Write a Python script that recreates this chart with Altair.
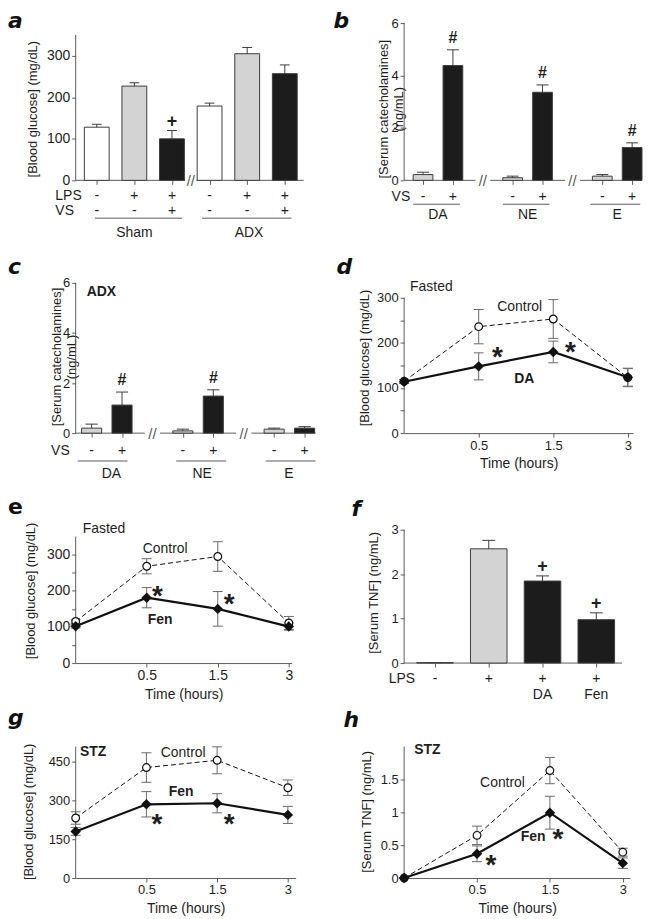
import json
import altair as alt
import pandas as pd

FONT = "Liberation Sans"
LFONT = "DejaVu Sans"
AXC = "#5c5c5c"
ERRC = "#6a6a6a"
TXT = "#1e1e1e"
WHITE, GRAY, BLACK = "#ffffff", "#d3d3d3", "#1c1c1c"

# ---------------- data ----------------
# a: blood glucose (mg/dL), Sham vs ADX
a_groups = ["Sham", "ADX"]
a_lps = ["-", "+", "+", "-", "+", "+"]
a_vs = ["-", "-", "+", "-", "-", "+"]
a_mean = [128, 227, 100, 179, 305, 257]
a_err = [7, 8, 20, 7, 15, 21]
a_sig = ["", "", "+", "", "", ""]

# b, c: serum catecholamines (ng/mL)
cat_groups = ["DA", "NE", "E"]
cat_vs = ["-", "+", "-", "+", "-", "+"]
b_mean = [0.22, 4.38, 0.10, 3.36, 0.16, 1.25]
b_err = [0.09, 0.60, 0.06, 0.28, 0.06, 0.18]
b_sig = ["", "#", "", "#", "", "#"]
c_mean = [0.20, 1.12, 0.09, 1.48, 0.16, 0.20]
c_err = [0.16, 0.52, 0.07, 0.25, 0.04, 0.06]
c_sig = ["", "#", "", "#", "", ""]

# time courses
time_labels = ["0", "0.5", "1.5", "3"]
d_ctrl = [115, 236, 253, 123]
d_ctrl_err = [4, 38, 43, 20]
d_da = [114, 148, 180, 124]
d_da_err = [4, 30, 24, 20]
e_ctrl = [115, 268, 295, 111]
e_ctrl_err = [5, 21, 41, 18]
e_fen = [102, 181, 150, 101]
e_fen_err = [5, 28, 48, 10]

# f: serum TNF (ng/mL)
f_lps = ["-", "+", "+", "+"]
f_drug = ["", "", "DA", "Fen"]
f_mean = [0.01, 2.57, 1.845, 0.975]
f_err = [0.0, 0.19, 0.115, 0.155]
f_sig = ["", "", "+", "+"]

g_ctrl = [232, 427, 455, 349]
g_ctrl_err = [24, 57, 52, 30]
g_fen = [180, 285, 289, 244]
g_fen_err = [15, 49, 37, 33]
h_ctrl = [0, 0.65, 1.636, 0.394]
h_ctrl_err = [0, 0.14, 0.20, 0.06]
h_fen = [0, 0.369, 0.995, 0.227]
h_fen_err = [0, 0.12, 0.25, 0.08]

# ---------------- helpers ----------------
H1, H2, H3, H4 = 158, 170, 147, 132


class Panel:
    def __init__(self, xdom, ydom, W, H, xaxis, yaxis):
        self.xdom, self.ydom, self.W, self.H = xdom, ydom, W, H
        self.xs = alt.Scale(domain=xdom, nice=False, zero=False)
        self.ys = alt.Scale(domain=ydom, nice=False, zero=False)
        self.xaxis, self.yaxis = xaxis, yaxis
        self.layers = []

    def X(self, f):
        return alt.X(f, type="quantitative", scale=self.xs, axis=self.xaxis)

    def Y(self, f):
        return alt.Y(f, type="quantitative", scale=self.ys, axis=self.yaxis)

    def add(self, c):
        self.layers.append(c)

    def chart(self):
        return alt.layer(*self.layers).properties(width=self.W, height=self.H)


def y_axis(values, title, tx, ty, fs=13, expr=None, fmt=None):
    kw = dict(values=values, domain=False, grid=False, tickSize=4, tickColor=AXC,
              labelFont=FONT, labelFontSize=fs, labelColor=TXT, labelPadding=2,
              title=title, titleFont=FONT, titleFontSize=13, titleFontWeight="normal",
              titleColor=TXT, titleX=tx, titleY=ty, titleBaseline="bottom",
              titleAngle=270, titleAlign="center")
    if expr:
        kw["labelExpr"] = expr
    if fmt:
        kw["format"] = fmt
    return alt.Axis(**kw)


def slot_axis(values):
    return alt.Axis(values=values, labels=False, domain=False, grid=False, tickSize=4,
                    tickColor=AXC, title=None)


def time_axis(fs=13, pad=5):
    return alt.Axis(values=[1, 2, 3], labelExpr=json.dumps(time_labels) + "[datum.value]",
                    domain=True, domainColor=AXC, tickColor=AXC, tickSize=4, grid=False,
                    labelFont=FONT, labelFontSize=fs, labelColor=TXT, labelPadding=2,
                    title="Time (hours)", titleFont=FONT, titleFontSize=14,
                    titleFontWeight="normal", titleColor=TXT, titlePadding=pad)


def y_line(p, top):
    df = pd.DataFrame({"x": [p.xdom[0]], "y": [0], "y2": [top]})
    p.add(alt.Chart(df).mark_rule(color=AXC, strokeWidth=1).encode(
        x=p.X("x"), y=p.Y("y"), y2="y2"))


def x_segments(p, segs):
    df = pd.DataFrame({"x": [s[0] for s in segs], "x2": [s[1] for s in segs], "y": 0})
    p.add(alt.Chart(df).mark_rule(color=AXC, strokeWidth=1).encode(
        x=p.X("x"), x2="x2", y=p.Y("y")))


def breaks(p, xs):
    df = pd.DataFrame({"x": xs, "y": 0, "t": "//"})
    p.add(alt.Chart(df).mark_text(font=FONT, fontSize=15, color=AXC, baseline="middle",
                                  dy=1).encode(x=p.X("x"), y=p.Y("y"), text="t"))


def bars(p, pos, mean, err, fill, sig, half, cap, sigfs, sigdy):
    df = pd.DataFrame({"pos": pos, "mean": mean, "fill": fill, "sig": sig})
    df["hi"] = df["mean"] + pd.Series(err)
    df["xl"], df["xr"] = df["pos"] - half, df["pos"] + half
    df["cl"], df["cr"] = df["pos"] - cap, df["pos"] + cap
    df["zero"] = 0
    base = alt.Chart(df)
    p.add(base.mark_bar(stroke="#3c3c3c", strokeWidth=1).encode(
        x=p.X("xl"), x2="xr", y=p.Y("mean"), y2="zero",
        fill=alt.Fill("fill:N", scale=None)))
    p.add(base.mark_rule(color="#3c3c3c", strokeWidth=1).encode(
        x=p.X("pos"), y=p.Y("mean"), y2="hi"))
    p.add(base.mark_rule(color="#3c3c3c", strokeWidth=1).encode(
        x=p.X("cl"), x2="cr", y=p.Y("hi")))
    p.add(base.mark_text(font=FONT, fontSize=sigfs, fontWeight="bold", color=TXT,
                         baseline="bottom", dy=sigdy).encode(
        x=p.X("pos"), y=p.Y("hi"), text="sig"))


def row_text(p, xs, texts, ypx, fs=14, align="center", weight="normal"):
    df = pd.DataFrame({"x": xs, "t": texts})
    p.add(alt.Chart(df).mark_text(font=FONT, fontSize=fs, fontWeight=weight, color=TXT,
                                  align=align, baseline="middle").encode(
        x=p.X("x"), y=alt.value(ypx), text="t"))


def underlines(p, segs, ypx):
    df = pd.DataFrame({"x": [s[0] for s in segs], "x2": [s[1] for s in segs]})
    p.add(alt.Chart(df).mark_rule(color=AXC, strokeWidth=1).encode(
        x=p.X("x"), x2="x2", y=alt.value(ypx)))


def note(p, x, y, text, fs=14, weight="normal", align="center", dy=0):
    df = pd.DataFrame({"x": [x], "y": [y], "t": [text]})
    p.add(alt.Chart(df).mark_text(font=FONT, fontSize=fs, fontWeight=weight, color=TXT,
                                  align=align, baseline="middle", dy=dy).encode(
        x=p.X("x"), y=p.Y("y"), text="t"))


def star(p, x, y):
    note(p, x, y, "*", fs=28, weight="bold", dy=8)


def letter(p, ch, x, y, italic=True):
    df = pd.DataFrame({"t": [ch]})
    p.add(alt.Chart(df).mark_text(font=LFONT, fontSize=22, fontWeight="bold",
                                  fontStyle="italic" if italic else "normal",
                                  align="left", baseline="alphabetic", color="#111").encode(
        x=alt.value(x), y=alt.value(y), text="t"))


def series_layers(p, means, errs, cap, dashed):
    df = pd.DataFrame({"x": list(range(len(means))), "y": means, "e": errs})
    df["lo"], df["hi"] = df["y"] - df["e"], df["y"] + df["e"]
    df["cl"], df["cr"] = df["x"] - cap, df["x"] + cap
    base = alt.Chart(df)
    errs_l = [
        base.mark_rule(color=ERRC, strokeWidth=1).encode(x=p.X("x"), y=p.Y("lo"), y2="hi"),
        base.mark_rule(color=ERRC, strokeWidth=1).encode(x=p.X("cl"), x2="cr", y=p.Y("lo")),
        base.mark_rule(color=ERRC, strokeWidth=1).encode(x=p.X("cl"), x2="cr", y=p.Y("hi")),
    ]
    if dashed:
        line = base.mark_line(color="#111", strokeWidth=1, strokeDash=[5, 3]).encode(
            x=p.X("x"), y=p.Y("y"))
        pts = base.mark_point(shape="circle", size=60, filled=True, fill="white",
                              stroke="#111", strokeWidth=1.2, opacity=1).encode(
            x=p.X("x"), y=p.Y("y"))
    else:
        line = base.mark_line(color="#111", strokeWidth=2.2).encode(x=p.X("x"), y=p.Y("y"))
        pts = base.mark_point(shape="diamond", size=110, filled=True, color="#111",
                              opacity=1).encode(x=p.X("x"), y=p.Y("y"))
    return errs_l, line, pts


def time_panel(p, ctrl, ctrl_err, trt, trt_err, ytop, unit):
    cap = 5.0 / unit
    e1, l1, p1 = series_layers(p, ctrl, ctrl_err, cap, True)
    e2, l2, p2 = series_layers(p, trt, trt_err, cap, False)
    y_line(p, ytop)
    for c in e1 + e2:
        p.add(c)
    p.add(l1)
    p.add(l2)
    p.add(p1)
    p.add(p2)


def slots(groups, per):
    return [g * (per + 1) + i + 1 for g in range(len(groups)) for i in range(per)]


# ---------------- panel a ----------------
a_pos = slots([0], 6)
pa = Panel([0.44, 6.5], [0, 378.8], 229, H1, slot_axis(a_pos),
           y_axis([0, 100, 200, 300], "[Blood glucose] (mg/dL)", -36, 86, fs=14))
y_line(pa, 350)
x_segments(pa, [(0.44, 3.35), (3.65, 6.5)])
bars(pa, a_pos, a_mean, a_err, [WHITE, GRAY, BLACK] * 2, a_sig, 0.33, 0.13, 18, 0)
breaks(pa, [3.5])
row_text(pa, [-0.1], ["LPS"], H1 + 16, align="left")
row_text(pa, a_pos, a_lps, H1 + 16)
row_text(pa, [-0.1], ["VS"], H1 + 31, align="left")
row_text(pa, a_pos, a_vs, H1 + 31)
underlines(pa, [(0.95, 3.27), (3.8, 6.18)], H1 + 38)
row_text(pa, [2.0, 5.05], a_groups, H1 + 53)
letter(pa, "a", -68, 5)

# ---------------- panel b ----------------
cat_pos = slots(cat_groups, 2)
pb = Panel([0.367, 8.33], [0, 6], 239, H1, slot_axis(cat_pos),
           y_axis([0, 2, 4, 6], ["[Serum catecholamines]", "(ng/mL)"], -14, 86))
y_line(pb, 6)
x_segments(pb, [(0.367, 2.75), (3.25, 5.75), (6.25, 8.33)])
bars(pb, cat_pos, b_mean, b_err, [GRAY, BLACK] * 3, b_sig, 0.33, 0.2, 16, -4)
breaks(pb, [3, 6])
row_text(pb, [0.57], ["VS"], H1 + 17, align="right")
row_text(pb, cat_pos, cat_vs, H1 + 17)
underlines(pb, [(0.67, 2.23), (3.67, 5.23), (6.6, 8.27)], H1 + 24)
row_text(pb, [1.5, 4.5, 7.5], cat_groups, H1 + 35)
letter(pb, "b", -71, 5)

# ---------------- panel c ----------------
pc = Panel([0.477, 8.36], [0, 6.755], 241, H2, slot_axis(cat_pos),
           y_axis([0, 2, 4, 6], ["[Serum catecholamines]", "(ng/mL)"], -12, 93))
y_line(pc, 6)
x_segments(pc, [(0.477, 2.75), (3.25, 5.75), (6.25, 8.36)])
bars(pc, cat_pos, c_mean, c_err, [GRAY, BLACK] * 3, c_sig, 0.33, 0.2, 16, -4)
breaks(pc, [3, 6])
note(pc, 0.84, 5.65, "ADX", fs=14, weight="bold", align="left")
row_text(pc, [0.28], ["VS"], H2 + 18, align="right")
row_text(pc, cat_pos, cat_vs, H2 + 18)
underlines(pc, [(0.54, 2.18), (3.78, 5.42), (6.72, 8.36)], H2 + 28)
row_text(pc, [1.65, 4.63, 7.48], cat_groups, H2 + 41)
letter(pc, "c", -68, 10)

# ---------------- panel d ----------------
hund = "datum.value % 100 == 0 ? datum.label : ''"
pd_ = Panel([0, 3.07], [0, 375], 230, H2, time_axis(),
            y_axis([0, 50, 100, 150, 200, 250, 300], "[Blood glucose] (mg/dL)", -33, 94,
                   expr=hund))
time_panel(pd_, d_ctrl, d_ctrl_err, d_da, d_da_err, 300, 75)
note(pd_, 0.08, 324, "Fasted", align="left")
note(pd_, 1.55, 280, "Control")
note(pd_, 1.61, 121, "DA", weight="bold")
star(pd_, 1.25, 185)
star(pd_, 2.23, 196)
letter(pd_, "d", -68, 10)

# ---------------- panel e ----------------
pe = Panel([0, 3.04], [0, 405.1], 217, H3, time_axis(fs=14),
           y_axis([0, 50, 100, 150, 200, 250, 300], "[Blood glucose] (mg/dL)", -38, 74,
                  fs=14, expr=hund))
time_panel(pe, e_ctrl, e_ctrl_err, e_fen, e_fen_err, 350, 71.4)
note(pe, 0.1, 372, "Fasted", align="left")
note(pe, 1.26, 315, "Control")
note(pe, 1.19, 120, "Fen", weight="bold")
star(pe, 1.15, 206)
star(pe, 2.16, 182)
letter(pe, "e", -68, -3, italic=False)

# ---------------- panel f ----------------
f_pos = slots([0], 4)
pf = Panel([0.426, 4.48], [0, 3.291], 219, H3, slot_axis(f_pos),
           y_axis([0, 1, 2, 3], "[Serum TNF] (ng/mL)", -24, 76))
y_line(pf, 3)
x_segments(pf, [(0.426, 4.48)])
bars(pf, f_pos, f_mean, f_err, [WHITE, GRAY, BLACK, BLACK], f_sig, 0.34, 0.12, 18, 0)
row_text(pf, [0.63], ["LPS"], H3 + 16, align="right")
row_text(pf, f_pos, f_lps, H3 + 16)
row_text(pf, f_pos, f_drug, H3 + 32)
letter(pf, "f", -53, -1)

# ---------------- panel g ----------------
pg = Panel([0, 3.11], [0, 507.7], 221, H4, time_axis(),
           y_axis([0, 150, 300, 450], "[Blood glucose] (mg/dL)", -40, 65))
time_panel(pg, g_ctrl, g_ctrl_err, g_fen, g_fen_err, 507.7, 71)
note(pg, 0.06, 488, "STZ", weight="bold", align="left")
note(pg, 1.52, 485, "Control")
note(pg, 1.49, 331, "Fen", weight="bold")
star(pg, 1.15, 235)
star(pg, 2.17, 235)
letter(pg, "g", -68, -22)

# ---------------- panel h ----------------
ph = Panel([0, 3.1], [0, 2], 227, H4, time_axis(),
           y_axis([0, 0.5, 1, 1.5], "[Serum TNF] (ng/mL)", -31, 65, fmt="~g"))
time_panel(ph, h_ctrl, h_ctrl_err, h_fen, h_fen_err, 2, 73.3)
note(ph, 0.14, 1.955, "STZ", weight="bold", align="left")
note(ph, 1.35, 1.44, "Control")
note(ph, 1.77, 0.62, "Fen", weight="bold")
star(ph, 1.19, 0.30)
star(ph, 2.11, 0.70)
letter(ph, "h", -61, -20)

chart = alt.concat(
    pa.chart(), pb.chart(), pc.chart(), pd_.chart(),
    pe.chart(), pf.chart(), pg.chart(), ph.chart(),
    columns=2, spacing={"row": 84, "column": 89}, bounds="flush", align="each",
).properties(padding=0).configure_view(stroke=None)

chart.save("out.html", embed_options={"renderer": "svg", "actions": False})
